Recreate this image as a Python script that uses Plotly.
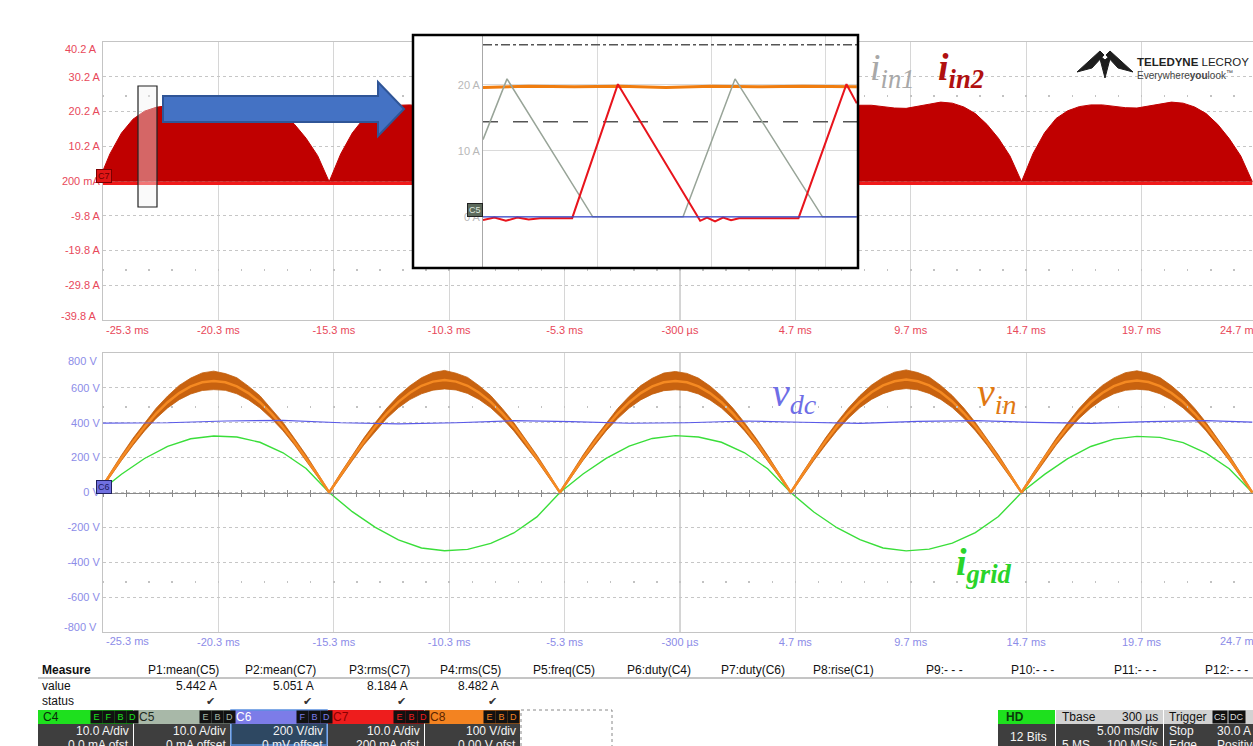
import plotly.graph_objects as go

W, H = 1253, 746
def X(px): return px / W
def Y(py): return 1 - py / H

# ---------------- DATA ----------------
# time axis of both main panels (ms)
x_range_ms = [-25.3, 24.53]
x_tick_vals = [-20.3, -15.3, -10.3, -5.3, -0.3, 4.7, 9.7, 14.7, 19.7]
x_tick_text = ["-20.3 ms", "-15.3 ms", "-10.3 ms", "-5.3 ms", "-300 µs", "4.7 ms", "9.7 ms", "14.7 ms", "19.7 ms"]
x_edge_text = ["-25.3 ms", "24.7 ms"]

top_y_range = [-39.8, 40.2]
top_y_vals = [30.2, 20.2, 10.2, 0.2, -9.8, -19.8, -29.8]
top_y_text = ["30.2 A", "20.2 A", "10.2 A", "200 mA", "-9.8 A", "-19.8 A", "-29.8 A"]
top_y_edge = ["40.2 A", "-39.8 A"]
top_dot_rows = [25.2, -24.8]

bot_y_range = [-800, 800]
bot_y_vals = [600, 400, 200, 0, -200, -400, -600]
bot_y_text = ["600 V", "400 V", "200 V", "0 V", "-200 V", "-400 V", "-600 V"]
bot_y_edge = ["800 V", "-800 V"]
bot_dot_rows = [500, -500]

t_half = [-25.5, -25.0, -24.5, -24.0, -23.5, -23.0, -22.5, -22.0, -21.5, -21.0,
          -20.5, -20.0, -19.5, -19.0, -18.5, -18.0, -17.5, -17.0, -16.5, -16.0,
          -15.5, -15.0, -14.5, -14.0, -13.5, -13.0, -12.5, -12.0, -11.5, -11.0,
          -10.5, -10.0, -9.5, -9.0, -8.5, -8.0, -7.5, -7.0, -6.5, -6.0,
          -5.5, -5.0, -4.5, -4.0, -3.5, -3.0, -2.5, -2.0, -1.5, -1.0,
          -0.5, 0.0, 0.5, 1.0, 1.5, 2.0, 2.5, 3.0, 3.5, 4.0,
          4.5, 5.0, 5.5, 6.0, 6.5, 7.0, 7.5, 8.0, 8.5, 9.0,
          9.5, 10.0, 10.5, 11.0, 11.5, 12.0, 12.5, 13.0, 13.5, 14.0,
          14.5, 15.0, 15.5, 16.0, 16.5, 17.0, 17.5, 18.0, 18.5, 19.0,
          19.5, 20.0, 20.5, 21.0, 21.5, 22.0, 22.5, 23.0, 23.5, 24.0, 24.5]

# C7 (i_in2) envelope, A
i_in2_env = [0, 8, 14, 18, 20.3, 21.4, 21.9, 22.0, 21.6, 21.2, 21.0, 21.5, 22.2, 22.8, 22.5, 21.4, 19.5, 16.5, 12.5, 7.5,
             0, 8, 14, 18.2, 20.4, 21.5, 22.0, 22.1, 21.7, 21.3, 21.1, 21.6, 22.3, 22.9, 22.6, 21.5, 19.6, 16.4, 12.4, 7.4,
             0, 7.8, 13.8, 18, 20.2, 21.3, 21.8, 21.9, 21.5, 21.1, 20.9, 21.4, 22.1, 22.7, 22.4, 21.3, 19.4, 16.3, 12.3, 7.3,
             0, 8, 14, 18.1, 20.3, 21.5, 22.0, 22.0, 21.6, 21.2, 21.1, 21.6, 22.3, 22.9, 22.6, 21.5, 19.6, 16.5, 12.5, 7.4,
             0, 8.1, 14.1, 18.2, 20.4, 21.6, 22.1, 22.1, 21.7, 21.3, 21.2, 21.7, 22.4, 22.9, 22.6, 21.5, 19.6, 16.5, 12.4, 7.4,
             0]
i_in2_floor = -0.5

# C8 (v_in) band, V
vin_upper = [6, 112, 214, 311, 400, 483, 553, 614, 656, 686, 696, 682, 658, 610, 555, 481, 402, 309, 215, 111,
             6, 113, 213, 312, 401, 484, 555, 612, 658, 688, 700, 684, 660, 612, 556, 482, 401, 310, 214, 112,
             6, 111, 215, 310, 399, 482, 552, 613, 655, 685, 694, 683, 656, 611, 554, 483, 400, 311, 213, 111,
             6, 112, 214, 312, 402, 485, 556, 616, 660, 690, 703, 688, 662, 614, 556, 484, 402, 311, 215, 112,
             6, 112, 213, 311, 400, 483, 554, 614, 657, 687, 698, 684, 659, 612, 555, 483, 401, 310, 214, 111,
             6]
vin_lower = [-6, 89, 183, 271, 353, 425, 485, 532, 565, 585, 590, 586, 566, 532, 485, 424, 354, 272, 184, 90,
             -6, 90, 182, 272, 352, 426, 486, 533, 566, 587, 594, 588, 568, 533, 486, 425, 353, 271, 183, 89,
             -6, 89, 184, 270, 353, 424, 484, 531, 564, 584, 589, 585, 565, 531, 484, 423, 353, 272, 184, 90,
             -6, 90, 183, 271, 354, 426, 487, 534, 567, 588, 596, 589, 568, 534, 487, 426, 354, 272, 183, 89,
             -6, 89, 183, 272, 353, 425, 485, 532, 566, 586, 592, 587, 566, 532, 485, 424, 353, 271, 183, 90,
             -6]
vin_core = [0, 100, 198, 290, 376, 452, 518, 570, 609, 632, 640, 632, 609, 570, 518, 452, 376, 290, 198, 100,
            0, 101, 199, 291, 378, 454, 520, 572, 612, 636, 645, 636, 612, 572, 520, 454, 378, 291, 199, 101,
            0, 100, 198, 290, 376, 452, 518, 570, 609, 632, 640, 632, 609, 570, 518, 452, 376, 290, 198, 100,
            0, 101, 200, 292, 379, 456, 522, 575, 614, 638, 648, 638, 614, 575, 522, 456, 379, 292, 200, 101,
            0, 100, 199, 291, 377, 453, 519, 571, 610, 634, 642, 634, 610, 571, 519, 453, 377, 291, 199, 100,
            0]

# C4 (i_grid) on the 200 V/div scale
t_grid = [-25.5, -24.5, -23.5, -22.5, -21.5, -20.5, -19.5, -18.5, -17.5, -16.5,
          -15.5, -14.5, -13.5, -12.5, -11.5, -10.5, -9.5, -8.5, -7.5, -6.5,
          -5.5, -4.5, -3.5, -2.5, -1.5, -0.5, 0.5, 1.5, 2.5, 3.5,
          4.5, 5.5, 6.5, 7.5, 8.5, 9.5, 10.5, 11.5, 12.5, 13.5,
          14.5, 15.5, 16.5, 17.5, 18.5, 19.5, 20.5, 21.5, 22.5, 23.5, 24.5]
i_grid = [0, 105, 195, 265, 308, 324, 318, 288, 228, 138,
          0, -110, -200, -272, -318, -334, -326, -292, -232, -140,
          0, 106, 196, 266, 310, 326, 318, 288, 228, 136,
          0, -112, -202, -270, -318, -335, -325, -290, -230, -138,
          0, 104, 194, 264, 306, 322, 316, 286, 226, 136, 0]

# C6 (v_dc)
t_dc = [-25.3, -22.5, -20.0, -17.5, -15.0, -12.5, -10.0, -7.5, -5.0, -2.5, 0.0,
        2.5, 5.0, 7.5, 10.0, 12.5, 15.0, 17.5, 20.0, 22.5, 24.5]
v_dc = [398, 400, 410, 414, 400, 394, 400, 412, 406, 397, 400,
        410, 403, 396, 408, 412, 402, 396, 406, 412, 404]

# zoomed inset (x in µs, y in A)
inset_x_range = [0, 32.72]
inset_y_range = [-7.6, 27.4]
inset_y_vals = [0, 10, 20]
inset_y_text = ["0 A", "10 A", "20 A"]
inset_x_grid = [10, 20, 30]
ins_t_in1 = [0, 2.1, 9.6, 17.5, 22.05, 29.7, 32.7]
ins_i_in1 = [11.7, 20.9, 0, 0, 20.9, 0, 0]
ins_t_in2 = [0, 1, 2, 3, 4, 5, 7.8, 11.8, 19.0, 19.6, 20.3, 21.0, 21.7, 22.4, 27.6, 31.8, 32.7]
ins_i_in2 = [-0.5, -0.1, -0.6, -0.1, -0.4, -0.2, -0.2, 20.1, -0.6, -0.1, -0.7, -0.1, -0.5, -0.2, -0.2, 20.1, 17.2]
ins_t_vin = [0, 4, 8, 12, 16, 20, 24, 28, 32.7]
ins_vin = [19.6, 19.8, 19.7, 19.8, 19.6, 19.8, 19.7, 19.8, 19.7]
ins_t_dc = [0, 32.7]
ins_dc = [0, 0]
cursor_levels = [26.06, 14.4]

# measurement table
measure_headers = ["P1:mean(C5)", "P2:mean(C7)", "P3:rms(C7)", "P4:rms(C5)", "P5:freq(C5)", "P6:duty(C4)",
                   "P7:duty(C6)", "P8:rise(C1)", "P9:- - -", "P10:- - -", "P11:- - -", "P12:- - -"]
measure_values = ["5.442 A", "5.051 A", "8.184 A", "8.482 A"]
channels = ["C4", "C5", "C6", "C7", "C8"]
ch_scale = ["10.0 A/div", "10.0 A/div", "200 V/div", "10.0 A/div", "100 V/div"]
ch_offset = ["0.0 mA ofst", "0 mA offset", "0 mV offset", "200 mA ofst", "0.00 V ofst"]
ch_flags = ["EFBD", "EBD", "FBD", "EBD", "EBD"]

# ---------------- STYLE ----------------
RED_TXT = "#e8485a"
BLUE_TXT = "#8c8ce8"
FONT = "Liberation Sans, Arial, sans-serif"
SERIF = "Liberation Serif, Times New Roman, serif"

fig = go.Figure()

# top panel: C7 envelope
fig.add_trace(go.Scatter(x=t_half, y=i_in2_env, mode="lines", line=dict(color="#c00000", width=1),
                         fill="tozeroy", fillcolor="#c00000", xaxis="x", yaxis="y", hoverinfo="skip"))
fig.add_trace(go.Scatter(x=[t_half[0], t_half[-1]], y=[i_in2_floor, i_in2_floor], mode="lines",
                         line=dict(color="#f01a1a", width=3), xaxis="x", yaxis="y", hoverinfo="skip"))

# bottom panel
fig.add_trace(go.Scatter(x=t_grid, y=i_grid, mode="lines", line=dict(color="#3ade3a", width=1.4),
                         xaxis="x2", yaxis="y2", hoverinfo="skip"))
fig.add_trace(go.Scatter(x=t_half, y=vin_upper, mode="lines", line=dict(color="#c25e0c", width=0.8),
                         xaxis="x2", yaxis="y2", hoverinfo="skip"))
fig.add_trace(go.Scatter(x=t_half, y=vin_lower, mode="lines", line=dict(color="#c25e0c", width=0.8),
                         fill="tonexty", fillcolor="#c8620f", xaxis="x2", yaxis="y2", hoverinfo="skip"))
fig.add_trace(go.Scatter(x=t_half, y=vin_core, mode="lines", line=dict(color="#f58a22", width=2.5),
                         xaxis="x2", yaxis="y2", hoverinfo="skip"))
fig.add_trace(go.Scatter(x=t_dc, y=v_dc, mode="lines", line=dict(color="#5a5ae8", width=1.2),
                         xaxis="x2", yaxis="y2", hoverinfo="skip"))

# helper (empty) traces so overlay tick axes exist
for xa, ya in [("x5", "y2"), ("x6", "y2"), ("x3", "y3"), ("x7", "y"), ("x8", "y"), ("x9", "y2"), ("x10", "y2")]:
    fig.add_trace(go.Scatter(x=[], y=[], xaxis=xa, yaxis=ya, hoverinfo="skip"))

# inset
for lvl, dash in zip(cursor_levels, ["dashdot", "longdash"]):
    fig.add_trace(go.Scatter(x=[inset_x_range[0], inset_x_range[1]], y=[lvl, lvl], mode="lines",
                             line=dict(color="#555555", width=1.5, dash=dash), xaxis="x4", yaxis="y4", hoverinfo="skip"))
fig.add_trace(go.Scatter(x=ins_t_vin, y=ins_vin, mode="lines", line=dict(color="#f07d0f", width=3),
                         xaxis="x4", yaxis="y4", hoverinfo="skip"))
fig.add_trace(go.Scatter(x=ins_t_in1, y=ins_i_in1, mode="lines", line=dict(color="#98a498", width=1.5),
                         xaxis="x4", yaxis="y4", hoverinfo="skip"))
fig.add_trace(go.Scatter(x=ins_t_in2, y=ins_i_in2, mode="lines", line=dict(color="#e8141c", width=2),
                         xaxis="x4", yaxis="y4", hoverinfo="skip"))
fig.add_trace(go.Scatter(x=ins_t_dc, y=ins_dc, mode="lines", line=dict(color="#3344cc", width=1.3),
                         xaxis="x4", yaxis="y4", hoverinfo="skip"))

dom_x = [X(103), 1.0]
dom_top = [Y(320), Y(42)]
dom_bot = [Y(632), Y(353)]

def ypos_top(v):
    return dom_top[0] + (v - top_y_range[0]) / (top_y_range[1] - top_y_range[0]) * (dom_top[1] - dom_top[0])

def ypos_bot(v):
    return dom_bot[0] + (v - bot_y_range[0]) / (bot_y_range[1] - bot_y_range[0]) * (dom_bot[1] - dom_bot[0])

common_x = dict(range=x_range_ms, tickvals=x_tick_vals, ticktext=x_tick_text, showgrid=True,
                gridcolor="#d6d6d6", gridwidth=1, zeroline=False, showline=True, mirror=True,
                linecolor="#c4c4c4", ticks="", fixedrange=True)
common_y = dict(showgrid=True, gridcolor="#c6c6c6", griddash="dot", zeroline=False, showline=True,
                mirror=True, linecolor="#c4c4c4", ticks="", fixedrange=True)

def tick_axis(over, pos, side, length, color, width=1, line=False):
    return dict(overlaying=over, anchor="free", position=pos, side=side, range=x_range_ms,
                tick0=-25.3, dtick=1, ticks="outside", ticklen=length, tickwidth=width, tickcolor=color,
                showticklabels=False, showgrid=False, zeroline=False, showline=line, linecolor=color,
                fixedrange=True)

fig.update_layout(
    width=W, height=H, autosize=False, margin=dict(l=0, r=0, t=0, b=0),
    paper_bgcolor="white", plot_bgcolor="white", showlegend=False,
    xaxis=dict(domain=dom_x, anchor="y", tickfont=dict(family=FONT, size=11, color=RED_TXT), **common_x),
    yaxis=dict(domain=dom_top, anchor="x", range=top_y_range, tickvals=top_y_vals, ticktext=top_y_text,
               tickfont=dict(family=FONT, size=11, color=RED_TXT), **common_y),
    xaxis2=dict(domain=dom_x, anchor="y2", tickfont=dict(family=FONT, size=11, color=BLUE_TXT), **common_x),
    yaxis2=dict(domain=dom_bot, anchor="x2", range=bot_y_range, tickvals=bot_y_vals, ticktext=bot_y_text,
                tickfont=dict(family=FONT, size=11, color=BLUE_TXT), **common_y),
    xaxis5=tick_axis("x2", ypos_bot(0), "bottom", 3, "#8a8a8a", 1, True),
    xaxis6=tick_axis("x2", ypos_bot(0), "top", 3, "#8a8a8a"),
    xaxis7=tick_axis("x", ypos_top(top_dot_rows[0]), "bottom", 2, "#c2c2c2", 1.5),
    xaxis8=tick_axis("x", ypos_top(top_dot_rows[1]), "bottom", 2, "#c2c2c2", 1.5),
    xaxis9=tick_axis("x2", ypos_bot(bot_dot_rows[0]), "bottom", 2, "#c2c2c2", 1.5),
    xaxis10=tick_axis("x2", ypos_bot(bot_dot_rows[1]), "bottom", 2, "#c2c2c2", 1.5),
    # white strip left of inset
    xaxis3=dict(domain=[X(413), X(483)], anchor="y3", range=[0, 1], visible=False),
    yaxis3=dict(domain=[Y(267), Y(36)], anchor="x3", range=[0, 1], visible=False),
    # inset
    xaxis4=dict(domain=[X(483), X(857)], anchor="y4", range=inset_x_range, tickvals=inset_x_grid,
                showticklabels=False, showgrid=True, gridcolor="#dadada", zeroline=False, showline=False, ticks=""),
    yaxis4=dict(domain=[Y(267), Y(36)], anchor="x4", range=inset_y_range, tickvals=inset_y_vals,
                ticktext=inset_y_text, tickfont=dict(family=FONT, size=11, color="#b8b8b8"),
                showgrid=True, gridcolor="#dadada", zeroline=False, showline=True, linecolor="#a8a8a8", ticks=""),
)

shapes = []
ann = []

# center vertical lines
for xr, yr in [("x", "y"), ("x2", "y2")]:
    shapes.append(dict(type="line", xref=xr, yref=yr + " domain", x0=-0.3, x1=-0.3, y0=0, y1=1,
                       line=dict(color="#a0a0a0", width=1), layer="below"))

# edge tick labels
ann += [
    dict(x=X(104), y=Y(330), text=x_edge_text[0], xanchor="left", font=dict(family=FONT, size=11, color=RED_TXT)),
    dict(x=X(1218), y=Y(330), text=x_edge_text[1], xanchor="left", font=dict(family=FONT, size=11, color=RED_TXT)),
    dict(x=X(104), y=Y(641), text=x_edge_text[0], xanchor="left", font=dict(family=FONT, size=11, color=BLUE_TXT)),
    dict(x=X(1218), y=Y(641), text=x_edge_text[1], xanchor="left", font=dict(family=FONT, size=11, color=BLUE_TXT)),
    dict(x=X(99), y=Y(49), text=top_y_edge[0], xanchor="right", font=dict(family=FONT, size=11, color=RED_TXT)),
    dict(x=X(99), y=Y(316), text=top_y_edge[1], xanchor="right", font=dict(family=FONT, size=11, color=RED_TXT)),
    dict(x=X(99), y=Y(361), text=bot_y_edge[0], xanchor="right", font=dict(family=FONT, size=11, color=BLUE_TXT)),
    dict(x=X(99), y=Y(627), text=bot_y_edge[1], xanchor="right", font=dict(family=FONT, size=11, color=BLUE_TXT)),
]

# channel badges on the plots
ann += [
    dict(x=X(96), y=Y(176), text="C7", font=dict(family=FONT, size=9, color="#6a0000"), bgcolor="#e01616",
         bordercolor="#7a0000", borderwidth=1, borderpad=1),
    dict(x=X(96), y=Y(487), text="C6", font=dict(family=FONT, size=9, color="#1a1a60"), bgcolor="#7070e0",
         bordercolor="#202060", borderwidth=1, borderpad=1),
]

# selection window and arrow
shapes.append(dict(type="rect", xref="paper", yref="paper", x0=X(138), x1=X(157), y0=Y(207), y1=Y(86),
                   fillcolor="rgba(242,242,242,0.42)", line=dict(color="#222", width=1.2), layer="above"))
arrow_pts = [(163, 96), (378, 96), (378, 82), (404, 109), (378, 136), (378, 122), (163, 122)]
path = "M" + " L".join(f"{X(a):.5f},{Y(b):.5f}" for a, b in arrow_pts) + " Z"
shapes.append(dict(type="path", xref="paper", yref="paper", path=path, fillcolor="#4472c4",
                   line=dict(color="#2f5597", width=2), layer="above"))

# inset frame
shapes.append(dict(type="rect", xref="paper", yref="paper", x0=X(413), x1=X(858), y0=Y(268), y1=Y(35),
                   line=dict(color="#000", width=2.5), fillcolor="rgba(0,0,0,0)", layer="above"))
ann.append(dict(x=X(475), y=Y(210), text="C5", font=dict(family=FONT, size=9, color="#dfe8df"),
                bgcolor="#5d6b5d", bordercolor="#222", borderwidth=1, borderpad=1))

# signal labels
ann += [
    dict(x=X(868), y=Y(70), xanchor="left", text="<i>i</i><sub><i>in1</i></sub>",
         font=dict(family=SERIF, size=38, color="#a8a8a8")),
    dict(x=X(936), y=Y(70), xanchor="left", text="<b><i>i</i><sub><i>in2</i></sub></b>",
         font=dict(family=SERIF, size=38, color="#b01010")),
    dict(x=X(770), y=Y(395), xanchor="left", text="<i>v</i><sub><i>dc</i></sub>",
         font=dict(family=SERIF, size=40, color="#6e6ee6")),
    dict(x=X(975), y=Y(395), xanchor="left", text="<i>v</i><sub><i>in</i></sub>",
         font=dict(family=SERIF, size=40, color="#e07812")),
    dict(x=X(954), y=Y(565), xanchor="left", text="<b><i>i</i><sub><i>grid</i></sub></b>",
         font=dict(family=SERIF, size=38, color="#2ad42a")),
]

# logo
logo_parts = [
    [(1077, 72), (1100, 51), (1104, 55), (1092, 68)],
    [(1133, 72), (1110, 51), (1106, 55), (1118, 68)],
    [(1099, 55), (1105, 78), (1111, 55), (1105, 60)],
]
for part in logo_parts:
    p = "M" + " L".join(f"{X(a):.5f},{Y(b):.5f}" for a, b in part) + " Z"
    shapes.append(dict(type="path", xref="paper", yref="paper", path=p, fillcolor="#1e1e1e",
                       line=dict(color="#1e1e1e", width=1), layer="above"))
ann += [
    dict(x=X(1135), y=Y(62), xanchor="left", text="<b>TELEDYNE</b> LECROY",
         font=dict(family=FONT, size=11.5, color="#222")),
    dict(x=X(1135), y=Y(75), xanchor="left", text="Everywhere<b>you</b>look<sup>™</sup>",
         font=dict(family=FONT, size=10, color="#444")),
]

# ---------------- measurement table ----------------
col_right = [221, 318, 412, 503, 597, 693, 787, 876, 965, 1056, 1158, 1250]
ann.append(dict(x=X(40), y=Y(670), xanchor="left", text="<b>Measure</b>", font=dict(family=FONT, size=12, color="#111")))
ann.append(dict(x=X(40), y=Y(686), xanchor="left", text="value", font=dict(family=FONT, size=12, color="#111")))
ann.append(dict(x=X(40), y=Y(701), xanchor="left", text="status", font=dict(family=FONT, size=12, color="#111")))
for hdr, xr in zip(measure_headers, col_right):
    ann.append(dict(x=X(xr), y=Y(670), xanchor="right", text=hdr, font=dict(family=FONT, size=12, color="#111")))
for val, xr in zip(measure_values, col_right):
    ann.append(dict(x=X(xr - 2), y=Y(686), xanchor="right", text=val, font=dict(family=FONT, size=12, color="#111")))
    ann.append(dict(x=X(xr - 4), y=Y(701), xanchor="right", text="✔", font=dict(family="DejaVu Sans", size=11, color="#333")))
shapes.append(dict(type="line", xref="paper", yref="paper", x0=X(38), x1=1, y0=Y(678), y1=Y(678),
                   line=dict(color="#8a8a8a", width=1), layer="above"))

box_x = [(38, 133), (134, 230), (231, 327), (328, 424), (425, 520)]
hdr_col = ["#1ee01e", "#a8b8a8", "#7c7ce8", "#ee1d1d", "#f38321"]
lbl_col = ["#0a2a0a", "#1e2a1e", "#ffffff", "#8b0000", "#5a2400"]
low_col = ["#3e3e3e", "#3e3e3e", "#2e4862", "#3e3e3e", "#3e3e3e"]
for (x0, x1), ch, sc, off, fl, hc, lc, lo in zip(box_x, channels, ch_scale, ch_offset, ch_flags, hdr_col, lbl_col, low_col):
    shapes.append(dict(type="rect", xref="paper", yref="paper", x0=X(x0), x1=X(x1), y0=Y(724), y1=Y(710),
                       fillcolor=hc, line=dict(width=0), layer="above"))
    shapes.append(dict(type="rect", xref="paper", yref="paper", x0=X(x0), x1=X(x1), y0=Y(746), y1=Y(724),
                       fillcolor=lo, line=dict(width=0), layer="above"))
    ann.append(dict(x=X(x0 + 3), y=Y(717), xanchor="left", text=ch, font=dict(family=FONT, size=12, color=lc)))
    for k, letter in enumerate(reversed(fl)):
        ann.append(dict(x=X(x1 - 7 - 12 * k), y=Y(717), text=letter, font=dict(family=FONT, size=9, color=hc),
                        bgcolor="#111", borderpad=1, width=9))
    ann.append(dict(x=X(x1 - 2), y=Y(731), xanchor="right", text=sc, font=dict(family=FONT, size=12, color="#f4f4f4")))
    ann.append(dict(x=X(x1 - 2), y=Y(745), xanchor="right", text=off, font=dict(family=FONT, size=12, color="#f4f4f4")))
shapes.append(dict(type="rect", xref="paper", yref="paper", x0=X(231), x1=X(327), y0=Y(745), y1=Y(710),
                   fillcolor="rgba(0,0,0,0)", line=dict(color="#5a90e0", width=1.5), layer="above"))
shapes.append(dict(type="rect", xref="paper", yref="paper", x0=X(521), x1=X(612), y0=Y(747), y1=Y(710),
                   fillcolor="rgba(0,0,0,0)", line=dict(color="#888", width=1, dash="dot"), layer="above"))

# right status boxes
right_boxes = [(998, 1055, "#1ee01e"), (1056, 1163, "#d2d2d2"), (1164, 1253, "#d2d2d2")]
for x0, x1, hc in right_boxes:
    shapes.append(dict(type="rect", xref="paper", yref="paper", x0=X(x0), x1=X(x1), y0=Y(724), y1=Y(710),
                       fillcolor=hc, line=dict(width=0), layer="above"))
    shapes.append(dict(type="rect", xref="paper", yref="paper", x0=X(x0), x1=X(x1), y0=Y(746), y1=Y(724),
                       fillcolor="#3e3e3e", line=dict(width=0), layer="above"))
wt = dict(family=FONT, size=12, color="#f4f4f4")
bk = dict(family=FONT, size=12, color="#111")
ann += [
    dict(x=X(1026), y=Y(717), text="<b>HD</b>", font=dict(family=FONT, size=12, color="#0a3a0a")),
    dict(x=X(1008), y=Y(737), xanchor="left", text="12 Bits", font=wt),
    dict(x=X(1060), y=Y(717), xanchor="left", text="Tbase", font=bk),
    dict(x=X(1160), y=Y(717), xanchor="right", text="300 µs", font=bk),
    dict(x=X(1160), y=Y(731), xanchor="right", text="5.00 ms/div", font=wt),
    dict(x=X(1060), y=Y(745), xanchor="left", text="5 MS", font=wt),
    dict(x=X(1160), y=Y(745), xanchor="right", text="100 MS/s", font=wt),
    dict(x=X(1167), y=Y(717), xanchor="left", text="Trigger", font=bk),
    dict(x=X(1228), y=Y(717), text="C5", font=dict(family=FONT, size=9, color="#ddd"), bgcolor="#111", borderpad=1),
    dict(x=X(1246), y=Y(717), text="DC", font=dict(family=FONT, size=9, color="#ddd"), bgcolor="#111", borderpad=1),
    dict(x=X(1167), y=Y(731), xanchor="left", text="Stop", font=wt),
    dict(x=X(1215), y=Y(731), xanchor="left", text="30.0 A", font=wt),
    dict(x=X(1167), y=Y(745), xanchor="left", text="Edge", font=wt),
    dict(x=X(1215), y=Y(745), xanchor="left", text="Positive", font=wt),
]

for a in ann:
    a.setdefault("xref", "paper")
    a.setdefault("yref", "paper")
    a.setdefault("showarrow", False)
    a.setdefault("yanchor", "middle")

fig.update_layout(shapes=shapes, annotations=ann)
fig.write_html("out.html", config={"displayModeBar": False, "staticPlot": True},
               post_script="document.body.style.margin='0';document.body.style.overflow='hidden';")
